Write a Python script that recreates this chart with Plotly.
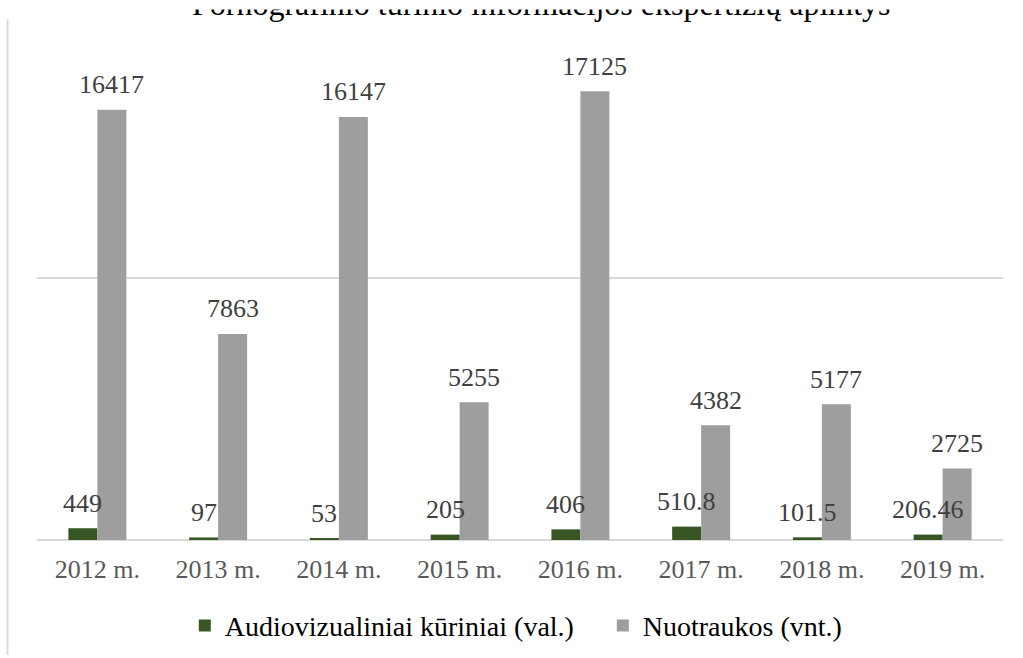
import plotly.graph_objects as go

years = ["2012 m.", "2013 m.", "2014 m.", "2015 m.", "2016 m.", "2017 m.", "2018 m.", "2019 m."]
audio_hours = [449, 97, 53, 205, 406, 510.8, 101.5, 206.46]
photo_count = [16417, 7863, 16147, 5255, 17125, 4382, 5177, 2725]

title_text = "Pornografinio turinio informacijos ekspertizių apimtys"
audio_name = "Audiovizualiniai kūriniai (val.)"
photo_name = "Nuotraukos (vnt.)"

FONT = "Liberation Serif, Times New Roman, serif"
GREEN = "#375623"
GRAY = "#9e9e9e"

fig = go.Figure()
fig.add_trace(go.Bar(x=years, y=audio_hours, name=audio_name, marker_color=GREEN, marker_line_width=0))
fig.add_trace(go.Bar(x=years, y=photo_count, name=photo_name, marker_color=GRAY, marker_line_width=0))

# data labels above each bar, shifted onto the bar of the group
labels = []
for series, shift in ((audio_hours, -14.5), (photo_count, 14.5)):
    for cat, val in zip(years, series):
        labels.append(dict(
            x=cat, y=val, xref="x", yref="y", text=f"{val:g}", showarrow=False,
            xshift=shift, yshift=25, yanchor="middle",
            font=dict(family=FONT, size=26, color="#404040"),
        ))

# title, its top cut off like in the source image
labels.append(dict(
    x=0.522, y=0.984, xref="paper", yref="paper", text=title_text, showarrow=False,
    xanchor="center", yanchor="bottom", font=dict(family=FONT, size=32, color="#000000"),
))
labels.append(dict(
    x=0.5, y=1.0115, xref="paper", yref="paper", text=" ", showarrow=False,
    xanchor="center", yanchor="bottom", width=1100, height=40, borderpad=0,
    bgcolor="#ffffff", font=dict(size=4),
))

fig.update_layout(
    width=1023,
    height=658,
    paper_bgcolor="#ffffff",
    plot_bgcolor="#ffffff",
    font=dict(family=FONT, color="#000000"),
    margin=dict(l=37, r=20, t=16, b=118),
    barmode="group",
    bargap=0.52,
    bargroupgap=0,
    showlegend=True,
    legend=dict(
        orientation="h", xref="paper", x=0.153, xanchor="left",
        yref="container", y=0.049, yanchor="middle",
        font=dict(family=FONT, size=28, color="#000000"),
        itemwidth=30, entrywidth=373,
    ),
    annotations=labels,
    shapes=[dict(
        type="line", xref="paper", yref="paper", x0=-0.0305, x1=-0.0305, y0=-0.219, y1=0.994,
        line=dict(color="#d9d9d9", width=2),
    )],
)
fig.update_xaxes(
    showline=False, ticks="", showgrid=False,
    tickfont=dict(family=FONT, size=26, color="#595959"), ticklabelstandoff=11,
)
fig.update_yaxes(
    range=[0, 20000], tickvals=[0, 10000], showticklabels=False,
    showgrid=True, gridcolor="#d9d9d9", gridwidth=1.5,
    zeroline=True, zerolinecolor="#d9d9d9", zerolinewidth=2,
)

fig.write_html("out.html", config={"displayModeBar": False},
               post_script="document.body.style.margin='0';")
